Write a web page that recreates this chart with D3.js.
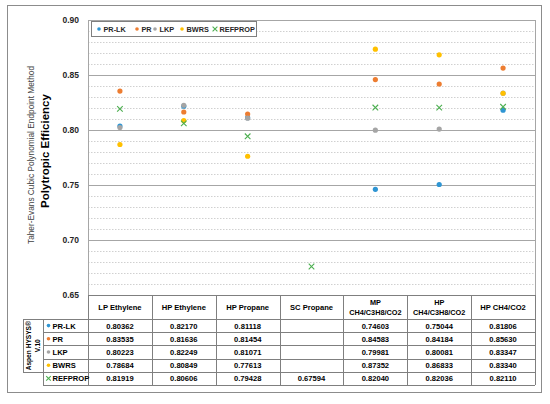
<!DOCTYPE html>
<html>
<head>
<meta charset="utf-8">
<script src="https://cdn.jsdelivr.net/npm/d3@7"></script>
<style>
  body { margin: 0; background: #fff; }
  text { font-family: "Liberation Sans", Arial, sans-serif; }
</style>
</head>
<body>
<div id="chart"></div>
<script>
// data (table values)
const categories = ["LP Ethylene", "HP Ethylene", "HP Propane", "SC Propane",
                    "MP CH4/C3H8/CO2", "HP CH4/C3H8/CO2", "HP CH4/CO2"];
const headerLines = [["LP Ethylene"], ["HP Ethylene"], ["HP Propane"], ["SC Propane"],
                     ["MP", "CH4/C3H8/CO2"], ["HP", "CH4/C3H8/CO2"], ["HP CH4/CO2"]];
const seriesNames = ["PR-LK", "PR", "LKP", "BWRS", "REFPROP"];
const prlk    = [0.80362, 0.82170, 0.81118, null, 0.74603, 0.75044, 0.81806];
const pr      = [0.83535, 0.81636, 0.81454, null, 0.84583, 0.84184, 0.85630];
const lkp     = [0.80223, 0.82249, 0.81071, null, 0.79981, 0.80081, 0.83347];
const bwrs    = [0.78684, 0.80849, 0.77613, null, 0.87352, 0.86833, 0.83340];
const refprop = [0.81919, 0.80606, 0.79428, 0.67594, 0.82040, 0.82036, 0.82110];
const yTicks = [0.65, 0.70, 0.75, 0.80, 0.85, 0.90];

const seriesValues = [prlk, pr, lkp, bwrs, refprop];
const colors = ["#2E95D3", "#ED7D31", "#A5A5A5", "#FFC000", "#4CAF50"];

const width = 550, height = 404;
const plotL = 88, plotR = 535, plotT = 20, plotB = 295;
const rowH = 13.2, headH = 24;

const svg = d3.select("#chart").append("svg")
    .attr("width", width).attr("height", height);

// outer frame
svg.append("rect").attr("x", 7.5).attr("y", 5.5).attr("width", 534).attr("height", 387)
    .attr("fill", "none").attr("stroke", "#8c8c8c");

const x = d3.scaleBand().domain(categories).range([plotL, plotR]);
const y = d3.scaleLinear().domain([0.65, 0.90]).range([plotB, plotT]);

// minor gridlines
const minor = d3.range(66, 90).map(d => d / 100).filter(d => Math.round(d * 100) % 5 !== 0);
svg.append("g").selectAll("line").data(minor).enter().append("line")
    .attr("x1", plotL).attr("x2", plotR)
    .attr("y1", d => Math.round(y(d)) + 0.5).attr("y2", d => Math.round(y(d)) + 0.5)
    .attr("stroke", "#d0d0d0").attr("stroke-dasharray", "1.5,1.5");

// major gridlines
svg.append("g").selectAll("line").data(yTicks).enter().append("line")
    .attr("x1", plotL).attr("x2", plotR)
    .attr("y1", d => Math.round(y(d)) + 0.5).attr("y2", d => Math.round(y(d)) + 0.5)
    .attr("stroke", "#a6a6a6");

// plot sides
[plotL, plotR].forEach(px => {
    svg.append("line").attr("x1", px + 0.5).attr("x2", px + 0.5)
        .attr("y1", plotT).attr("y2", plotB).attr("stroke", "#a6a6a6");
});

// y axis labels
const yAxis = d3.axisLeft(y).tickValues(yTicks).tickFormat(d3.format(".2f")).tickSize(0).tickPadding(9);
const ya = svg.append("g").attr("transform", `translate(${plotL},0)`).call(yAxis);
ya.select(".domain").remove();
ya.selectAll("text").attr("font-size", 8.5).attr("font-weight", "bold").attr("fill", "#262626")
    .style("font-family", "Liberation Sans, Arial, sans-serif");

// axis titles
svg.append("text").attr("transform", "translate(34,155) rotate(-90)")
    .attr("text-anchor", "middle").attr("font-size", 8.3).attr("fill", "#404040")
    .text("Taher-Evans Cubic Polynomial Endpoint Method");
svg.append("text").attr("transform", "translate(49,151) rotate(-90)")
    .attr("text-anchor", "middle").attr("font-size", 11.5).attr("font-weight", "bold").attr("fill", "#000")
    .text("Polytropic Efficiency");

// marker helper
function marker(g, i, cx, cy, r) {
    if (i === 4) {
        const s = r === undefined ? 2.8 : r;
        g.append("path")
            .attr("d", `M${cx - s},${cy - s}L${cx + s},${cy + s}M${cx - s},${cy + s}L${cx + s},${cy - s}`)
            .attr("stroke", colors[i]).attr("stroke-width", 1.1).attr("fill", "none");
    } else {
        g.append("circle").attr("cx", cx).attr("cy", cy).attr("r", r === undefined ? 2.6 : r)
            .attr("fill", colors[i]);
    }
}

// points
const pts = svg.append("g");
seriesValues.forEach((vals, i) => {
    vals.forEach((v, j) => {
        if (v === null) return;
        marker(pts, i, x(categories[j]) + x.bandwidth() / 2, y(v));
    });
});

// legend box
const lg = svg.append("g");
lg.append("rect").attr("x", 91.5).attr("y", 21.5).attr("width", 165).attr("height", 15)
    .attr("fill", "#fff").attr("stroke", "#7f7f7f");
const legX = [99, 137, 155, 182, 215];
seriesNames.forEach((n, i) => {
    marker(lg, i, legX[i], 29, i === 4 ? 2.4 : 1.8);
    lg.append("text").attr("x", legX[i] + 4.5).attr("y", 31.7)
        .attr("font-size", 7.3).attr("font-weight", "bold").attr("fill", "#262626").text(n);
});

// data table
const tbl = svg.append("g");
const lineC = "#7f7f7f";
const rowTop = plotB + headH;           // first data row top
const tblBottom = rowTop + rowH * 5;

// header texts
headerLines.forEach((lines, j) => {
    const cx = x(categories[j]) + x.bandwidth() / 2;
    const cy = plotB + headH / 2;
    lines.forEach((t, k) => {
        tbl.append("text").attr("x", cx)
            .attr("y", cy + 3 + (k - (lines.length - 1) / 2) * 10)
            .attr("text-anchor", "middle").attr("font-size", lines.length > 1 ? 7.3 : 7.6)
            .attr("font-weight", "bold")
            .attr("fill", "#000").text(t);
    });
});

// vertical lines of table
categories.forEach((c, j) => {
    tbl.append("line").attr("x1", Math.round(x(c)) + 0.5).attr("x2", Math.round(x(c)) + 0.5)
        .attr("y1", plotB).attr("y2", tblBottom).attr("stroke", lineC);
});
tbl.append("line").attr("x1", plotR + 0.5).attr("x2", plotR + 0.5)
    .attr("y1", plotB).attr("y2", tblBottom).attr("stroke", lineC);
tbl.append("line").attr("x1", 43.5).attr("x2", 43.5)
    .attr("y1", rowTop).attr("y2", tblBottom).attr("stroke", lineC);

// horizontal lines
tbl.append("line").attr("x1", plotL).attr("x2", plotR).attr("y1", plotB + 0.5).attr("y2", plotB + 0.5)
    .attr("stroke", lineC);
d3.range(6).forEach(k => {
    const yy = Math.round(rowTop + k * rowH) + 0.5;
    tbl.append("line").attr("x1", 43).attr("x2", plotR)
        .attr("y1", yy).attr("y2", yy).attr("stroke", lineC);
});

// Aspen box
const aspB = Math.round(rowTop + 4 * rowH) + 0.5;
tbl.append("rect").attr("x", 23.5).attr("y", Math.round(rowTop) + 0.5)
    .attr("width", 20).attr("height", aspB - Math.round(rowTop) - 0.5)
    .attr("fill", "none").attr("stroke", lineC);
const aspC = (rowTop + aspB) / 2;
tbl.append("text").attr("transform", `translate(30.5,${aspC}) rotate(-90)`)
    .attr("text-anchor", "middle").attr("font-size", 6.6).attr("font-weight", "bold").text("Aspen HYSYS®");
tbl.append("text").attr("transform", `translate(40,${aspC}) rotate(-90)`)
    .attr("text-anchor", "middle").attr("font-size", 6.6).attr("font-weight", "bold").text("V.10");

// rows
seriesNames.forEach((n, i) => {
    const cy = rowTop + i * rowH + rowH / 2;
    marker(tbl, i, 48.5, cy, i === 4 ? 2.3 : 1.8);
    tbl.append("text").attr("x", 52.5).attr("y", cy + 3)
        .attr("font-size", 7.6).attr("font-weight", "bold").attr("fill", "#000").text(n);
    seriesValues[i].forEach((v, j) => {
        if (v === null) return;
        tbl.append("text").attr("x", x(categories[j]) + x.bandwidth() / 2).attr("y", cy + 3)
            .attr("text-anchor", "middle").attr("font-size", 7.6).attr("font-weight", "bold")
            .attr("fill", "#000").text(d3.format(".5f")(v));
    });
});
</script>
</body>
</html>
